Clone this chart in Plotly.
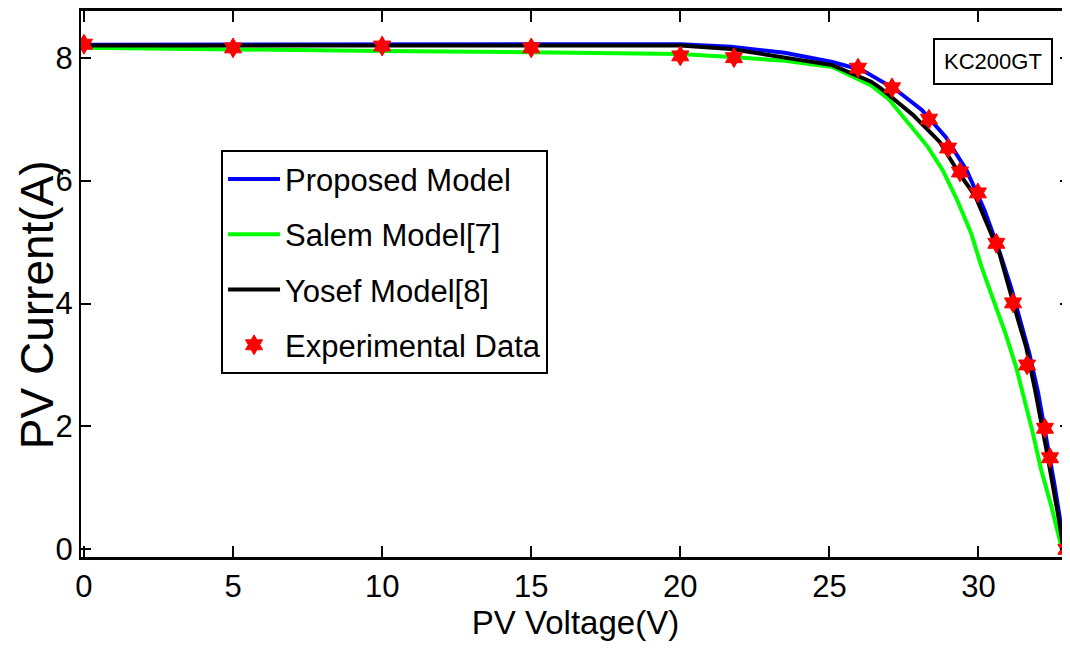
import plotly.graph_objects as go

# Proposed Model (blue)
prop_v = [0, 5, 10, 15, 20, 21.7, 23.5, 25.1, 26.1, 27.2, 28.1, 28.9, 29.6, 30.2, 30.7, 31.1, 31.4, 31.7, 32.0, 32.3, 32.55, 32.75, 32.9]
prop_i = [8.21, 8.21, 8.21, 8.21, 8.22, 8.18, 8.08, 7.93, 7.80, 7.49, 7.15, 6.71, 6.17, 5.52, 4.85, 4.25, 3.75, 3.20, 2.55, 1.75, 1.05, 0.45, 0.0]

# Salem Model [7] (green)
salem_v = [0, 5, 10, 15, 20, 21.7, 23.5, 25.1, 26.4, 27.0, 27.8, 28.3, 28.8, 29.25, 29.75, 30.1, 30.5, 30.9, 31.26, 31.55, 31.8, 32.1, 32.45, 32.75, 32.85]
salem_i = [8.16, 8.13, 8.11, 8.09, 8.06, 8.01, 7.95, 7.85, 7.55, 7.32, 6.85, 6.55, 6.17, 5.72, 5.15, 4.60, 4.06, 3.52, 2.97, 2.45, 1.94, 1.30, 0.69, 0.10, 0.0]

# Yosef Model [8] (black)
yosef_v = [0, 5, 10, 15, 20, 21.7, 23.5, 25.1, 26.4, 26.7, 27.8, 28.7, 29.35, 29.9, 30.7, 31.0, 31.3, 31.6, 31.9, 32.26, 32.5, 32.7, 32.85]
yosef_i = [8.20, 8.20, 8.20, 8.20, 8.20, 8.14, 8.01, 7.88, 7.61, 7.51, 7.07, 6.63, 6.12, 5.74, 4.82, 4.27, 3.78, 3.29, 2.59, 1.67, 1.05, 0.48, 0.0]

# Experimental data (red markers)
exp_v = [0, 5, 10, 15, 20, 21.8, 25.96, 27.1, 28.34, 28.98, 29.38, 29.98, 30.6, 31.16, 31.63, 32.23, 32.4, 32.95]
exp_i = [8.22, 8.16, 8.19, 8.16, 8.03, 8.00, 7.83, 7.51, 7.00, 6.53, 6.14, 5.80, 4.98, 4.01, 3.00, 1.97, 1.49, 0.0]

x_ticks = [0, 5, 10, 15, 20, 25, 30]
y_ticks = [0, 2, 4, 6, 8]

FONT = "Liberation Sans, Arial, sans-serif"

fig = go.Figure()
fig.add_trace(go.Scatter(x=prop_v, y=prop_i, mode="lines", name="Proposed Model",
                         line=dict(color="#0000ff", width=4), legendgroup="a"))
fig.add_trace(go.Scatter(x=salem_v, y=salem_i, mode="lines", name="Salem Model[7]",
                         line=dict(color="#00ff00", width=4), legendgroup="b"))
fig.add_trace(go.Scatter(x=yosef_v, y=yosef_i, mode="lines", name="Yosef Model[8]",
                         line=dict(color="#000000", width=4), legendgroup="c"))
fig.add_trace(go.Scatter(x=exp_v, y=exp_i, mode="markers", name="Experimental Data",
                         marker=dict(color="#ff0000", symbol="hexagram", size=15,
                                     line=dict(color="#ff0000", width=1)),
                         legendgroup="d"))

fig.update_layout(
    width=1062, height=645,
    margin=dict(l=73, r=0, t=3, b=96),
    paper_bgcolor="white", plot_bgcolor="white",
    font=dict(family=FONT, color="black", size=31),
    showlegend=True,
    legend=dict(x=0.1416, y=0.745, xanchor="left", yanchor="top",
                bgcolor="white", bordercolor="black", borderwidth=2,
                font=dict(size=31, family=FONT, color="black"),
                traceorder="grouped", tracegroupgap=12, itemwidth=52),
    annotations=[
        dict(text="KC200GT", xref="paper", yref="paper",
             x=0.922, y=0.9066, xanchor="center", yanchor="middle",
             showarrow=False, font=dict(size=22, family=FONT, color="black"),
             bordercolor="black", borderwidth=2, borderpad=9, bgcolor="white"),
        dict(text="PV Current(A)", xref="paper", yref="paper",
             x=-0.0445, y=0.463, xanchor="center", yanchor="middle",
             textangle=-90, showarrow=False,
             font=dict(size=46, family=FONT, color="black")),
    ],
)
fig.update_xaxes(range=[-0.1, 33.07], tickvals=x_ticks, ticks="inside", ticklen=11,
                 tickwidth=2, tickcolor="black", showline=True, linecolor="black",
                 linewidth=3, mirror="ticks", showgrid=False, zeroline=False,
                 automargin=False,
                 tickfont=dict(size=31, family=FONT, color="black"),
                 title=dict(text="PV Voltage(V)", font=dict(size=33, family=FONT, color="black"),
                            standoff=4))
fig.update_yaxes(range=[-0.125, 8.76], tickvals=y_ticks, ticks="inside", ticklen=10,
                 tickwidth=2, tickcolor="black", showline=True, linecolor="black",
                 linewidth=2, mirror="ticks", showgrid=False, zeroline=False,
                 automargin=False,
                 tickfont=dict(size=31, family=FONT, color="black"))

fig.write_html("out.html")
